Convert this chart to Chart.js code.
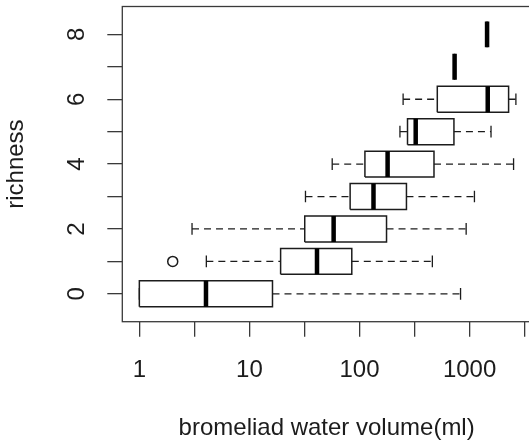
<!DOCTYPE html>
<html><head><meta charset="utf-8">
<script src="https://cdn.jsdelivr.net/npm/chart.js@4"></script>
<style>html,body{margin:0;padding:0;overflow:hidden;background:#fff}#wrap{width:540px;height:446px}</style>
</head><body><div id="wrap"><canvas id="c"></canvas></div>
<script>
const richness    = [0, 1, 2, 3, 4, 5, 6, 7, 8];
const whiskerLow  = [1, 4.06, 3.01, 32.3, 56.5, 233, 249, 731, 1442];
const q1          = [1, 19.2, 31.8, 82.2, 112, 273, 509, 731, 1442];
const median      = [4.03, 41.1, 58.2, 134, 180, 324, 1462, 731, 1442];
const q3          = [16.2, 85.1, 176, 267, 475, 721, 2262, 731, 1442];
const whiskerHigh = [828, 459, 931, 1107, 2510, 1566, 2635, 731, 1442];
const outlierRichness = [1];
const outlierValue    = [2.01];
const xTickValues = [1, 3.162, 10, 31.62, 100, 316.2, 1000, 3162];
const xTickLabels = ['1', '', '10', '', '100', '', '1000', ''];
const yTickValues = [0, 1, 2, 3, 4, 5, 6, 7, 8];
const yTickLabels = ['0', '', '2', '', '4', '', '6', '', '8'];
const xTitle = 'bromeliad water volume(ml)';
const yTitle = 'richness';

const BOX_HALF = 0.4, CAP_HALF = 0.18;
const INK = '#1c1c1c';
const AXIS = '#3a3a3a';
const FONT = "'Liberation Sans', Arial, Helvetica, sans-serif";

function seg(points, extra) {
  return Object.assign({
    type: 'scatter', showLine: true, data: points, borderColor: INK, borderWidth: 1.3,
    pointRadius: 0, pointHoverRadius: 0, fill: false, tension: 0, order: 1,
    borderCapStyle: 'butt', borderJoinStyle: 'miter'
  }, extra || {});
}

const datasets = [];
richness.forEach((r, i) => {
  datasets.push(seg([{x: whiskerLow[i], y: r}, {x: q1[i], y: r}], {borderDash: [7, 5]}));
  datasets.push(seg([{x: q3[i], y: r}, {x: whiskerHigh[i], y: r}], {borderDash: [7, 5]}));
  datasets.push(seg([{x: whiskerLow[i], y: r - CAP_HALF}, {x: whiskerLow[i], y: r + CAP_HALF}]));
  datasets.push(seg([{x: whiskerHigh[i], y: r - CAP_HALF}, {x: whiskerHigh[i], y: r + CAP_HALF}]));
  datasets.push(seg([
    {x: q1[i], y: r - BOX_HALF}, {x: q3[i], y: r - BOX_HALF},
    {x: q3[i], y: r + BOX_HALF}, {x: q1[i], y: r + BOX_HALF},
    {x: q1[i], y: r - BOX_HALF}], {borderWidth: 1.5}));
  datasets.push(seg([{x: median[i], y: r - BOX_HALF}, {x: median[i], y: r + BOX_HALF}],
    {borderWidth: 4.5, borderColor: '#000', order: 0}));
});
datasets.push({
  type: 'scatter', showLine: false,
  data: outlierValue.map((v, k) => ({x: v, y: outlierRichness[k]})),
  pointRadius: 5, pointHoverRadius: 5, pointBorderWidth: 1.5,
  pointBackgroundColor: 'rgba(0,0,0,0)', pointBorderColor: INK, order: 0
});

const framePlugin = {
  id: 'frame',
  afterDatasetsDraw(chart) {
    const a = chart.chartArea, ctx = chart.ctx;
    ctx.save();
    ctx.strokeStyle = AXIS; ctx.lineWidth = 1.3;
    ctx.strokeRect(a.left, a.top, a.right - a.left, a.bottom - a.top);
    ctx.restore();
  }
};

function noPad(s) { s.paddingTop = 0; s.paddingBottom = 0; s.paddingLeft = 0; s.paddingRight = 0; }

new Chart(document.getElementById('c'), {
  type: 'scatter',
  data: {datasets},
  options: {
    responsive: true, maintainAspectRatio: false, animation: false,
    layout: {padding: {left: 0, right: 9, top: 5, bottom: 0}},
    plugins: {legend: {display: false}, tooltip: {enabled: false}},
    scales: {
      x: {
        type: 'logarithmic', position: 'bottom', min: 0.73, max: 3614,
        afterBuildTicks: s => { s.ticks = xTickValues.map(v => ({value: v})); },
        afterFit: s => { s.height = 446 - 321.7; noPad(s); },
        ticks: {autoSkip: false, maxRotation: 0, minRotation: 0, padding: 19,
          color: INK, font: {family: FONT, size: 24},
          callback: (v, i) => xTickLabels[i]},
        grid: {drawOnChartArea: false, drawTicks: true, tickLength: 15, color: AXIS, lineWidth: 1.3},
        border: {display: false},
        title: {display: true, text: xTitle, color: INK, font: {family: FONT, size: 24},
          padding: {top: 0, bottom: 3.3}}
      },
      y: {
        type: 'linear', position: 'left', min: -0.86, max: 8.86,
        afterBuildTicks: s => { s.ticks = yTickValues.map(v => ({value: v})); },
        afterFit: s => { s.width = 122.3; noPad(s); },
        ticks: {autoSkip: false, minRotation: 90, maxRotation: 90, crossAlign: 'center', padding: 23,
          color: INK, font: {family: FONT, size: 24},
          callback: (v, i) => yTickLabels[i]},
        grid: {drawOnChartArea: false, drawTicks: true, tickLength: 15, color: AXIS, lineWidth: 1.3},
        border: {display: false},
        title: {display: true, text: yTitle, color: INK, font: {family: FONT, size: 24},
          padding: {top: 2.2, bottom: 0}}
      }
    }
  },
  plugins: [framePlugin]
});
</script>
</body></html>
